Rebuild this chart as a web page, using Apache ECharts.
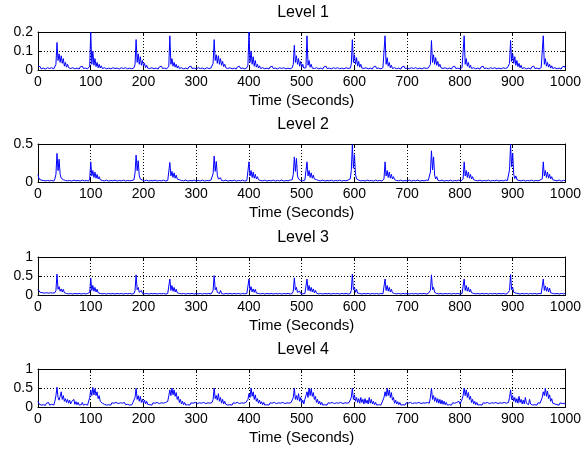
<!DOCTYPE html>
<html>
<head>
<meta charset="utf-8">
<script src="https://cdn.jsdelivr.net/npm/echarts@6/dist/echarts.min.js"></script>
<style>
html, body { margin: 0; padding: 0; background: #fff; }
#chart { width: 584px; height: 455px; }
</style>
</head>
<body>
<div id="chart"></div>
<script>
// Decomposition levels, one sample every 2 seconds from 0 to 1000 s
const sampleStep = 2;
const levelTitles = ['Level 1', 'Level 2', 'Level 3', 'Level 4'];
const yMax = [0.2, 0.5, 1, 1];
const yStep = [0.1, 0.5, 0.5, 0.5];

const level1 = [
0.02,0.012,0.018,0.006,0.016,0.01,0.02,0.005,0.015,0.012,
0.018,0.008,0.016,0.012,0.02,0.006,0.014,0.03,0.145,0.05,
0.085,0.04,0.075,0.035,0.06,0.02,0.04,0.015,0.03,0.012,
0.02,0.008,0.016,0.012,0.022,0.006,0.015,0.01,0.018,0.005,
0.016,0.012,0.02,0.008,0.015,0.01,0.018,0.006,0.014,0.02,
0.198,0.03,0.1,0.025,0.06,0.018,0.04,0.012,0.03,0.01,
0.022,0.008,0.016,0.012,0.02,0.006,0.015,0.01,0.018,0.006,
0.015,0.012,0.02,0.008,0.016,0.01,0.018,0.005,0.014,0.012,
0.02,0.008,0.016,0.012,0.018,0.006,0.015,0.01,0.02,0.006,
0.016,0.012,0.03,0.16,0.04,0.085,0.03,0.07,0.025,0.05,
0.02,0.035,0.012,0.025,0.01,0.018,0.008,0.016,0.012,0.02,
0.006,0.015,0.01,0.018,0.005,0.016,0.012,0.02,0.008,0.015,
0.01,0.018,0.006,0.015,0.02,0.18,0.03,0.06,0.02,0.04,
0.015,0.03,0.01,0.022,0.008,0.016,0.012,0.02,0.006,0.015,
0.01,0.018,0.005,0.016,0.012,0.02,0.008,0.015,0.01,0.018,
0.006,0.016,0.012,0.02,0.008,0.015,0.01,0.018,0.005,0.014,
0.012,0.02,0.008,0.016,0.01,0.02,0.035,0.16,0.05,0.08,
0.035,0.075,0.03,0.06,0.025,0.045,0.018,0.03,0.012,0.022,
0.008,0.016,0.012,0.02,0.006,0.015,0.01,0.018,0.005,0.016,
0.012,0.02,0.008,0.015,0.01,0.018,0.006,0.014,0.012,0.025,
0.2,0.04,0.1,0.03,0.07,0.02,0.05,0.015,0.03,0.01,
0.022,0.008,0.016,0.012,0.02,0.006,0.015,0.01,0.018,0.005,
0.016,0.012,0.02,0.008,0.015,0.01,0.018,0.006,0.014,0.012,
0.02,0.008,0.016,0.012,0.018,0.006,0.015,0.01,0.02,0.006,
0.015,0.012,0.03,0.13,0.04,0.075,0.03,0.06,0.02,0.045,
0.015,0.03,0.01,0.02,0.012,0.18,0.025,0.05,0.015,0.03,
0.01,0.02,0.008,0.016,0.012,0.02,0.006,0.015,0.01,0.018,
0.005,0.016,0.012,0.02,0.008,0.015,0.01,0.018,0.006,0.014,
0.012,0.02,0.008,0.016,0.012,0.018,0.006,0.015,0.01,0.02,
0.006,0.015,0.012,0.02,0.008,0.016,0.01,0.03,0.16,0.04,
0.08,0.03,0.065,0.02,0.045,0.015,0.03,0.01,0.02,0.008,
0.016,0.012,0.02,0.006,0.015,0.01,0.018,0.005,0.016,0.012,
0.02,0.008,0.015,0.01,0.018,0.006,0.014,0.012,0.02,0.18,
0.03,0.065,0.02,0.04,0.012,0.025,0.008,0.016,0.012,0.02,
0.006,0.015,0.01,0.018,0.005,0.016,0.012,0.02,0.008,0.015,
0.01,0.018,0.006,0.014,0.012,0.02,0.008,0.016,0.012,0.018,
0.006,0.015,0.01,0.02,0.006,0.015,0.012,0.02,0.008,0.016,
0.01,0.018,0.03,0.155,0.04,0.08,0.03,0.065,0.025,0.045,
0.018,0.03,0.012,0.022,0.008,0.016,0.012,0.02,0.006,0.015,
0.01,0.018,0.005,0.016,0.012,0.02,0.008,0.015,0.01,0.018,
0.006,0.014,0.012,0.02,0.18,0.03,0.06,0.02,0.04,0.012,
0.025,0.008,0.016,0.012,0.02,0.006,0.015,0.01,0.018,0.005,
0.016,0.012,0.02,0.008,0.015,0.01,0.018,0.006,0.014,0.012,
0.02,0.008,0.016,0.012,0.018,0.006,0.015,0.01,0.02,0.006,
0.015,0.012,0.02,0.008,0.016,0.012,0.02,0.035,0.155,0.045,
0.085,0.035,0.07,0.025,0.05,0.018,0.035,0.012,0.025,0.008,
0.016,0.012,0.02,0.006,0.015,0.01,0.018,0.005,0.016,0.012,
0.02,0.008,0.015,0.01,0.018,0.006,0.014,0.012,0.02,0.18,
0.03,0.06,0.02,0.04,0.015,0.03,0.01,0.022,0.008,0.016,
0.012,0.02,0.006,0.015,0.01,0.018,0.005,0.016,0.012,0.02,
0.01
];

const level2 = [
0.1,0.04,0.06,0.025,0.035,0.02,0.03,0.015,0.035,0.02,
0.03,0.015,0.035,0.02,0.03,0.012,0.04,0.1,0.376,0.15,
0.3,0.1,0.05,0.065,0.03,0.04,0.02,0.035,0.015,0.03,
0.02,0.035,0.012,0.03,0.025,0.035,0.015,0.03,0.02,0.035,
0.012,0.03,0.025,0.035,0.015,0.03,0.02,0.035,0.012,0.04,
0.265,0.08,0.15,0.06,0.13,0.05,0.1,0.04,0.07,0.03,
0.05,0.02,0.035,0.015,0.03,0.025,0.035,0.012,0.03,0.02,
0.035,0.015,0.03,0.025,0.035,0.012,0.03,0.02,0.035,0.015,
0.03,0.025,0.035,0.012,0.03,0.02,0.035,0.015,0.03,0.02,
0.035,0.03,0.12,0.354,0.15,0.28,0.08,0.04,0.055,0.025,
0.035,0.015,0.03,0.025,0.035,0.012,0.03,0.02,0.035,0.015,
0.03,0.025,0.035,0.012,0.03,0.02,0.035,0.015,0.03,0.025,
0.035,0.012,0.03,0.02,0.04,0.257,0.08,0.14,0.06,0.12,
0.05,0.09,0.04,0.06,0.03,0.045,0.02,0.035,0.015,0.03,
0.025,0.035,0.012,0.03,0.02,0.035,0.015,0.03,0.025,0.035,
0.012,0.03,0.02,0.035,0.015,0.03,0.025,0.035,0.012,0.03,
0.02,0.035,0.015,0.03,0.025,0.035,0.11,0.34,0.14,0.27,
0.09,0.04,0.03,0.055,0.02,0.035,0.015,0.03,0.025,0.035,
0.012,0.03,0.02,0.035,0.015,0.03,0.025,0.035,0.012,0.03,
0.02,0.035,0.015,0.03,0.025,0.035,0.012,0.03,0.02,0.04,
0.265,0.08,0.15,0.06,0.13,0.05,0.1,0.04,0.07,0.03,
0.05,0.02,0.035,0.015,0.03,0.025,0.035,0.012,0.03,0.02,
0.035,0.015,0.03,0.025,0.035,0.012,0.03,0.02,0.035,0.015,
0.03,0.025,0.035,0.012,0.03,0.02,0.035,0.015,0.03,0.025,
0.035,0.03,0.1,0.33,0.14,0.31,0.08,0.04,0.05,0.02,
0.035,0.015,0.03,0.025,0.04,0.265,0.08,0.15,0.06,0.12,
0.05,0.09,0.04,0.06,0.03,0.045,0.02,0.035,0.015,0.03,
0.025,0.035,0.012,0.03,0.02,0.035,0.015,0.03,0.025,0.035,
0.012,0.03,0.02,0.035,0.015,0.03,0.025,0.035,0.012,0.03,
0.02,0.035,0.015,0.03,0.025,0.035,0.04,0.15,0.49,0.18,
0.36,0.1,0.04,0.065,0.025,0.04,0.015,0.03,0.02,0.035,
0.012,0.03,0.025,0.035,0.015,0.03,0.02,0.035,0.012,0.03,
0.025,0.035,0.015,0.03,0.02,0.035,0.012,0.03,0.04,0.265,
0.08,0.15,0.06,0.13,0.05,0.1,0.04,0.07,0.03,0.05,
0.02,0.035,0.015,0.03,0.025,0.035,0.012,0.03,0.02,0.035,
0.015,0.03,0.025,0.035,0.012,0.03,0.02,0.035,0.015,0.03,
0.025,0.035,0.012,0.03,0.02,0.035,0.015,0.03,0.025,0.035,
0.02,0.035,0.13,0.41,0.16,0.33,0.09,0.04,0.07,0.025,
0.04,0.015,0.03,0.025,0.035,0.012,0.03,0.02,0.035,0.015,
0.03,0.025,0.035,0.012,0.03,0.02,0.035,0.015,0.03,0.025,
0.035,0.012,0.03,0.04,0.265,0.08,0.15,0.06,0.13,0.05,
0.1,0.04,0.07,0.03,0.05,0.02,0.035,0.015,0.03,0.025,
0.035,0.012,0.03,0.02,0.035,0.015,0.03,0.025,0.035,0.012,
0.03,0.02,0.035,0.015,0.03,0.025,0.035,0.012,0.03,0.02,
0.035,0.015,0.03,0.025,0.035,0.02,0.04,0.16,0.495,0.2,
0.38,0.1,0.045,0.08,0.03,0.045,0.02,0.035,0.015,0.03,
0.025,0.035,0.012,0.03,0.02,0.035,0.015,0.03,0.025,0.035,
0.012,0.03,0.02,0.035,0.015,0.03,0.025,0.035,0.04,0.265,
0.08,0.15,0.06,0.13,0.05,0.1,0.04,0.07,0.03,0.05,
0.02,0.035,0.015,0.03,0.025,0.035,0.012,0.03,0.02,0.035,
0.02
];

const level3 = [
0.15,0.1,0.07,0.04,0.06,0.03,0.05,0.04,0.06,0.025,
0.05,0.04,0.06,0.03,0.05,0.04,0.06,0.12,0.55,0.15,
0.22,0.1,0.16,0.08,0.15,0.06,0.09,0.04,0.06,0.03,
0.05,0.04,0.06,0.025,0.05,0.04,0.06,0.03,0.05,0.04,
0.06,0.025,0.05,0.04,0.06,0.03,0.05,0.04,0.06,0.07,
0.45,0.12,0.25,0.1,0.2,0.08,0.15,0.06,0.1,0.04,
0.07,0.03,0.05,0.04,0.06,0.025,0.05,0.04,0.06,0.03,
0.05,0.04,0.06,0.025,0.05,0.04,0.06,0.03,0.05,0.04,
0.06,0.025,0.05,0.04,0.06,0.03,0.05,0.04,0.06,0.025,
0.05,0.04,0.12,0.53,0.14,0.2,0.07,0.05,0.12,0.04,
0.06,0.03,0.05,0.04,0.06,0.025,0.05,0.04,0.06,0.03,
0.05,0.04,0.06,0.025,0.05,0.04,0.06,0.03,0.05,0.04,
0.06,0.025,0.05,0.04,0.07,0.42,0.12,0.25,0.1,0.2,
0.08,0.15,0.06,0.1,0.04,0.07,0.03,0.05,0.04,0.06,
0.025,0.05,0.04,0.06,0.03,0.05,0.04,0.06,0.025,0.05,
0.04,0.06,0.03,0.05,0.04,0.06,0.025,0.05,0.04,0.06,
0.03,0.05,0.04,0.06,0.025,0.05,0.12,0.51,0.14,0.2,
0.07,0.05,0.04,0.12,0.04,0.06,0.025,0.05,0.04,0.06,
0.03,0.05,0.04,0.06,0.025,0.05,0.04,0.06,0.03,0.05,
0.04,0.06,0.025,0.05,0.04,0.06,0.03,0.05,0.04,0.07,
0.42,0.12,0.22,0.08,0.16,0.07,0.15,0.05,0.09,0.04,
0.06,0.03,0.05,0.04,0.06,0.025,0.05,0.04,0.06,0.03,
0.05,0.04,0.06,0.025,0.05,0.04,0.06,0.03,0.05,0.04,
0.06,0.025,0.05,0.04,0.06,0.03,0.05,0.04,0.06,0.025,
0.05,0.04,0.1,0.45,0.13,0.2,0.07,0.05,0.1,0.04,
0.06,0.03,0.05,0.04,0.07,0.42,0.12,0.25,0.1,0.2,
0.08,0.16,0.06,0.12,0.05,0.08,0.03,0.05,0.04,0.06,
0.025,0.05,0.04,0.06,0.03,0.05,0.04,0.06,0.025,0.05,
0.04,0.06,0.03,0.05,0.04,0.06,0.025,0.05,0.04,0.06,
0.03,0.05,0.04,0.06,0.025,0.05,0.04,0.12,0.55,0.14,
0.2,0.07,0.15,0.05,0.1,0.04,0.06,0.025,0.05,0.04,
0.06,0.03,0.05,0.04,0.06,0.025,0.05,0.04,0.06,0.03,
0.05,0.04,0.06,0.025,0.05,0.04,0.06,0.03,0.07,0.42,
0.12,0.25,0.1,0.2,0.08,0.15,0.06,0.1,0.04,0.07,
0.03,0.05,0.04,0.06,0.025,0.05,0.04,0.06,0.03,0.05,
0.04,0.06,0.025,0.05,0.04,0.06,0.03,0.05,0.04,0.06,
0.025,0.05,0.04,0.06,0.03,0.05,0.04,0.06,0.025,0.05,
0.04,0.06,0.12,0.53,0.14,0.2,0.07,0.1,0.04,0.07,
0.03,0.05,0.04,0.06,0.025,0.05,0.04,0.06,0.03,0.05,
0.04,0.06,0.025,0.05,0.04,0.06,0.03,0.05,0.04,0.06,
0.025,0.05,0.04,0.07,0.42,0.12,0.25,0.1,0.2,0.08,
0.15,0.06,0.1,0.04,0.07,0.03,0.05,0.04,0.06,0.025,
0.05,0.04,0.06,0.03,0.05,0.04,0.06,0.025,0.05,0.04,
0.06,0.03,0.05,0.04,0.06,0.025,0.05,0.04,0.06,0.03,
0.05,0.04,0.06,0.025,0.05,0.04,0.06,0.12,0.54,0.14,
0.2,0.07,0.12,0.05,0.08,0.04,0.06,0.025,0.05,0.04,
0.06,0.03,0.05,0.04,0.06,0.025,0.05,0.04,0.06,0.03,
0.05,0.04,0.06,0.025,0.05,0.04,0.06,0.03,0.07,0.42,
0.12,0.24,0.1,0.2,0.08,0.18,0.06,0.1,0.04,0.07,
0.03,0.05,0.04,0.06,0.025,0.05,0.04,0.06,0.03,0.05,
0.04
];

const level4 = [
0.15,0.08,0.12,0.05,0.1,0.06,0.09,0.04,0.1,0.06,
0.12,0.05,0.09,0.07,0.11,0.05,0.15,0.3,0.52,0.25,
0.18,0.28,0.4,0.2,0.3,0.15,0.22,0.12,0.2,0.1,
0.18,0.08,0.15,0.1,0.2,0.07,0.14,0.06,0.12,0.05,
0.1,0.06,0.12,0.05,0.09,0.07,0.11,0.05,0.1,0.25,
0.45,0.3,0.52,0.32,0.48,0.3,0.4,0.22,0.3,0.15,
0.2,0.1,0.15,0.07,0.12,0.05,0.1,0.06,0.09,0.05,
0.11,0.06,0.1,0.05,0.12,0.07,0.09,0.05,0.11,0.06,
0.1,0.05,0.12,0.06,0.09,0.07,0.11,0.05,0.1,0.06,
0.12,0.08,0.25,0.49,0.2,0.3,0.15,0.28,0.12,0.2,
0.1,0.18,0.08,0.15,0.07,0.12,0.06,0.1,0.05,0.11,
0.06,0.1,0.05,0.12,0.07,0.09,0.05,0.11,0.06,0.1,
0.05,0.12,0.07,0.15,0.3,0.45,0.3,0.5,0.32,0.45,
0.28,0.38,0.2,0.28,0.12,0.2,0.08,0.15,0.06,0.12,
0.05,0.1,0.06,0.09,0.05,0.11,0.06,0.1,0.05,0.12,
0.07,0.09,0.05,0.11,0.06,0.1,0.05,0.12,0.07,0.09,
0.05,0.11,0.06,0.1,0.05,0.12,0.2,0.5,0.22,0.3,
0.18,0.35,0.15,0.25,0.1,0.2,0.08,0.15,0.07,0.12,
0.05,0.1,0.06,0.09,0.05,0.11,0.06,0.1,0.05,0.12,
0.07,0.09,0.05,0.11,0.06,0.1,0.05,0.12,0.08,0.2,
0.35,0.25,0.5,0.28,0.4,0.2,0.32,0.15,0.22,0.1,
0.18,0.08,0.14,0.06,0.12,0.05,0.1,0.06,0.09,0.05,
0.11,0.06,0.1,0.05,0.12,0.07,0.09,0.05,0.11,0.06,
0.1,0.05,0.12,0.07,0.09,0.05,0.11,0.06,0.1,0.05,
0.12,0.08,0.25,0.5,0.2,0.3,0.18,0.35,0.15,0.25,
0.1,0.18,0.08,0.2,0.3,0.4,0.25,0.5,0.3,0.48,
0.28,0.38,0.2,0.28,0.12,0.2,0.08,0.15,0.06,0.12,
0.05,0.1,0.06,0.09,0.05,0.11,0.06,0.1,0.05,0.12,
0.07,0.09,0.05,0.11,0.06,0.1,0.05,0.12,0.07,0.09,
0.05,0.11,0.06,0.1,0.05,0.12,0.08,0.25,0.5,0.2,
0.32,0.15,0.25,0.12,0.22,0.1,0.25,0.12,0.2,0.08,
0.22,0.1,0.18,0.08,0.25,0.1,0.2,0.08,0.15,0.06,
0.12,0.05,0.1,0.06,0.09,0.05,0.11,0.08,0.25,0.4,
0.28,0.5,0.3,0.45,0.25,0.38,0.18,0.25,0.1,0.18,
0.08,0.14,0.06,0.12,0.05,0.1,0.06,0.09,0.05,0.11,
0.06,0.1,0.05,0.12,0.07,0.09,0.05,0.11,0.06,0.1,
0.05,0.12,0.07,0.09,0.05,0.11,0.06,0.1,0.05,0.12,
0.08,0.1,0.25,0.5,0.2,0.3,0.15,0.25,0.12,0.22,
0.1,0.2,0.08,0.18,0.07,0.15,0.06,0.12,0.05,0.1,
0.06,0.09,0.05,0.11,0.06,0.1,0.05,0.12,0.08,0.15,
0.08,0.12,0.2,0.3,0.5,0.3,0.45,0.25,0.38,0.2,
0.28,0.12,0.2,0.08,0.15,0.06,0.12,0.05,0.1,0.06,
0.09,0.05,0.11,0.06,0.1,0.05,0.12,0.07,0.09,0.05,
0.11,0.06,0.1,0.05,0.12,0.07,0.09,0.05,0.11,0.06,
0.1,0.05,0.12,0.07,0.1,0.06,0.12,0.25,0.45,0.2,
0.3,0.15,0.25,0.12,0.22,0.1,0.28,0.12,0.2,0.08,
0.18,0.08,0.25,0.1,0.15,0.06,0.2,0.08,0.12,0.05,
0.1,0.06,0.09,0.05,0.11,0.06,0.1,0.12,0.25,0.4,
0.3,0.5,0.28,0.42,0.22,0.32,0.15,0.22,0.1,0.15,
0.08,0.12,0.06,0.1,0.05,0.11,0.06,0.09,0.05,0.1,
0.06
];

const levelValues = [level1, level2, level3, level4];

// Subplot frames (pixels)
const frameLeft = 38, frameRight = 16;
const frameTops = [32, 144, 257, 369];
const frameHeight = 38;

const FONT = '"Liberation Sans", Arial, Helvetica, sans-serif';
const black = '#000';
const dotted = { color: black, width: 1, type: [1, 2] };

const grids = [], xAxes = [], yAxes = [], series = [], titles = [];

levelValues.forEach((vals, i) => {
  grids.push({ left: frameLeft, right: frameRight, top: frameTops[i], height: frameHeight, containLabel: false });

  titles.push({
    text: levelTitles[i],
    left: frameLeft + (584 - frameLeft - frameRight) / 2,
    textAlign: 'center',
    top: frameTops[i] - 27,
    padding: 0,
    textStyle: { fontFamily: FONT, fontSize: 16, fontWeight: 'normal', color: black }
  });

  // bottom axis with labels and vertical grid
  xAxes.push({
    gridIndex: i, type: 'value', min: 0, max: 1000, interval: 100,
    name: 'Time (Seconds)', nameLocation: 'middle', nameGap: 23,
    nameTextStyle: { fontFamily: FONT, fontSize: 15, color: black },
    axisLine: { show: true, onZero: false, lineStyle: { color: black, width: 1 } },
    axisTick: { show: true, inside: true, length: 4, lineStyle: { color: black } },
    axisLabel: { fontFamily: FONT, fontSize: 14, color: black, margin: 5, formatter: v => String(v) },
    splitLine: { show: true, lineStyle: dotted }
  });
  // top box edge
  xAxes.push({
    gridIndex: i, type: 'value', position: 'top', min: 0, max: 1000, interval: 100,
    axisLine: { show: true, onZero: false, lineStyle: { color: black, width: 1 } },
    axisTick: { show: true, inside: true, length: 4, lineStyle: { color: black } },
    axisLabel: { show: false }, splitLine: { show: false }
  });
  // left axis with labels and horizontal grid
  yAxes.push({
    gridIndex: i, type: 'value', min: 0, max: yMax[i], interval: yStep[i],
    axisLine: { show: true, onZero: false, lineStyle: { color: black, width: 1 } },
    axisTick: { show: true, inside: true, length: 4, lineStyle: { color: black } },
    axisLabel: { fontFamily: FONT, fontSize: 14, color: black, margin: 5, formatter: v => String(v) },
    splitLine: { show: true, lineStyle: dotted }
  });
  // right box edge
  yAxes.push({
    gridIndex: i, type: 'value', position: 'right', min: 0, max: yMax[i], interval: yStep[i],
    axisLine: { show: true, onZero: false, lineStyle: { color: black, width: 1 } },
    axisTick: { show: true, inside: true, length: 4, lineStyle: { color: black } },
    axisLabel: { show: false }, splitLine: { show: false }
  });

  series.push({
    type: 'line',
    xAxisIndex: 2 * i,
    yAxisIndex: 2 * i,
    data: vals.map((v, k) => [k * sampleStep, v]),
    showSymbol: false,
    symbol: 'none',
    sampling: false,
    clip: true,
    lineStyle: { color: '#0000ff', width: 1 },
    z: 1
  });
});

const chart = echarts.init(document.getElementById('chart'), null, { renderer: 'canvas' });
chart.setOption({
  animation: false,
  backgroundColor: '#fff',
  title: titles,
  grid: grids,
  xAxis: xAxes,
  yAxis: yAxes,
  series: series
});
</script>
</body>
</html>
